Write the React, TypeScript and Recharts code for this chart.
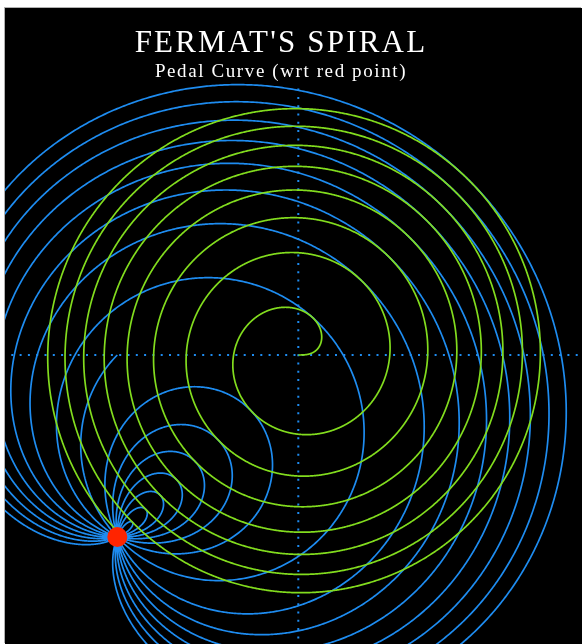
import React from 'react';
import { ComposedChart, Line, XAxis, YAxis, ReferenceLine, ReferenceDot } from 'recharts';

// Texts
const titleLines = ["FERMAT'S SPIRAL", 'Pedal Curve (wrt red point)'];
const spiralScale = [36.5];
const thetaRangePi = [0, 15.25];
// Pedal point (red dot), in the same units as the axes
const redPoint = [-181, -182];
// Visible window of the plot
const xRange = [-293.3, 283.7];
const yRange = [-289, 347];
// Dotted axes extents
const axisXSpan = [-287, 300];
const axisYSpan = [-300, 272];

const BLUE = '#1e8cf0';
const GREEN = '#82dc1e';

const a = spiralScale[0];
const tMax = thetaRangePi[1] * Math.PI;
const STEP = 0.004;

const spiralData: { x: number; y: number }[] = [];
const pedalData: { x: number; y: number }[] = [];
for (let t = Math.max(thetaRangePi[0] * Math.PI, 1e-5); t <= tMax + 1e-9; t += STEP) {
  const r = a * Math.sqrt(t);
  const c = Math.cos(t);
  const s = Math.sin(t);
  const px = r * c;
  const py = r * s;
  spiralData.push({ x: px, y: py });
  const rp = a / (2 * Math.sqrt(t));
  const tx = rp * c - r * s;
  const ty = rp * s + r * c;
  const k = ((redPoint[0] - px) * tx + (redPoint[1] - py) * ty) / (tx * tx + ty * ty);
  pedalData.push({ x: px + k * tx, y: py + k * ty });
}

export default function App() {
  return (
    <div
      style={{
        position: 'fixed',
        left: 5,
        top: 8,
        width: 577,
        height: 636,
        background: '#000',
        boxShadow: '-1px -1px 0 #b0b0b0',
      }}
    >
      <ComposedChart width={577} height={636} margin={{ top: 0, right: 0, bottom: 0, left: 0 }}>
        <XAxis dataKey="x" type="number" domain={xRange} allowDataOverflow hide />
        <YAxis dataKey="y" type="number" domain={yRange} allowDataOverflow hide />
        <ReferenceLine
          segment={[{ x: axisXSpan[0], y: 0 }, { x: axisXSpan[1], y: 0 }]}
          stroke={BLUE}
          strokeWidth={2}
          strokeDasharray="2 6.3"
          ifOverflow="hidden"
        />
        <ReferenceLine
          segment={[{ x: 0, y: axisYSpan[0] }, { x: 0, y: axisYSpan[1] }]}
          stroke={BLUE}
          strokeWidth={2}
          strokeDasharray="2 6.3"
          ifOverflow="hidden"
        />
        <Line
          data={pedalData}
          dataKey="y"
          type="linear"
          dot={false}
          stroke={BLUE}
          strokeWidth={1.7}
          isAnimationActive={false}
        />
        <Line
          data={spiralData}
          dataKey="y"
          type="linear"
          dot={false}
          stroke={GREEN}
          strokeWidth={1.7}
          isAnimationActive={false}
        />
        <ReferenceDot x={redPoint[0]} y={redPoint[1]} r={10} fill="#ff2400" stroke="none" ifOverflow="visible" />
      </ComposedChart>
      <svg
        width={577}
        height={100}
        style={{ position: 'absolute', left: 0, top: 0, pointerEvents: 'none' }}
      >
        <text
          x={276}
          y={44}
          textAnchor="middle"
          fill="#fff"
          fontFamily="'Liberation Serif', serif"
          fontSize={31}
          letterSpacing={2.2}
        >
          {titleLines[0]}
        </text>
        <text
          x={276}
          y={68.5}
          textAnchor="middle"
          fill="#fff"
          fontFamily="'Liberation Serif', serif"
          fontSize={19}
          letterSpacing={1.6}
        >
          {titleLines[1]}
        </text>
      </svg>
    </div>
  );
}
